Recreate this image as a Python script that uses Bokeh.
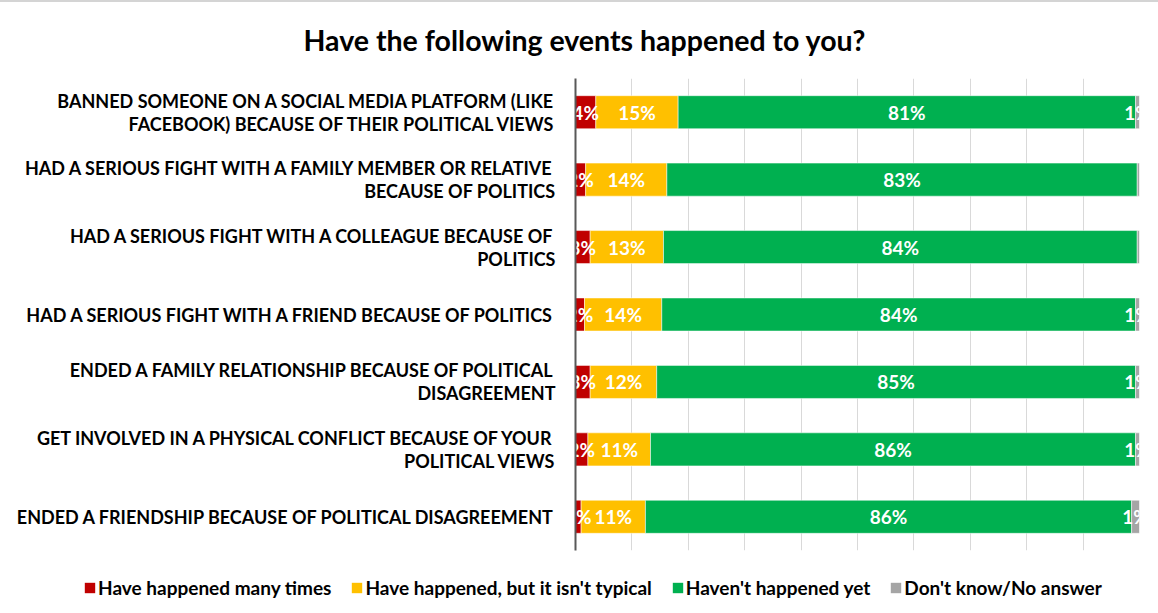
from bokeh.plotting import figure
from bokeh.models import ColumnDataSource, FactorRange, Legend, LegendItem
from bokeh.core.properties import value
from bokeh.embed import file_html
from bokeh.resources import INLINE

title_text = "Have the following events happened to you?"
categories = [
    "BANNED SOMEONE ON A SOCIAL MEDIA PLATFORM (LIKE\nFACEBOOK) BECAUSE OF THEIR POLITICAL VIEWS",
    "HAD A SERIOUS FIGHT WITH A FAMILY MEMBER OR RELATIVE\nBECAUSE OF POLITICS",
    "HAD A SERIOUS FIGHT WITH A COLLEAGUE BECAUSE OF\nPOLITICS",
    "HAD A SERIOUS FIGHT WITH A FRIEND BECAUSE OF POLITICS",
    "ENDED A FAMILY RELATIONSHIP BECAUSE OF POLITICAL\nDISAGREEMENT",
    "GET INVOLVED IN A PHYSICAL CONFLICT BECAUSE OF YOUR\nPOLITICAL VIEWS",
    "ENDED A FRIENDSHIP BECAUSE OF POLITICAL DISAGREEMENT",
]
series_names = [
    "Have happened many times",
    "Have happened, but it isn't typical",
    "Haven't happened yet",
    "Don't know/No answer",
]
many_times = [3.6, 1.8, 2.6, 1.6, 2.6, 2.2, 1.0]
not_typical = [14.6, 14.4, 13.0, 13.7, 11.8, 11.1, 11.4]
not_yet = [81.1, 83.4, 84.0, 84.0, 84.9, 86.0, 86.2]
dont_know = [0.7, 0.4, 0.4, 0.7, 0.7, 0.7, 1.4]
colors = ["#c00000", "#ffc000", "#00b050", "#a5a5a5"]
grid_ticks = [0, 10, 20, 30, 40, 50, 60, 70, 80, 90, 100]

keys = ["s0", "s1", "s2", "s3"]
data = dict(cat=categories, s0=many_times, s1=not_typical, s2=not_yet, s3=dont_know)
source = ColumnDataSource(data)

FONT = "Lato"

p = figure(
    width=1158, height=558,
    y_range=FactorRange(*reversed(categories)),
    x_range=(0, 100),
    output_backend="svg", toolbar_location=None,
    min_border_left=575, min_border_right=19, min_border_top=75, min_border_bottom=10,
)
p.styles = {"border-top": "2px solid #d4d4d4"}

p.hbar_stack(keys, y="cat", height=0.49, color=colors, source=source,
             line_color="white", line_width=0.5)

vals = [many_times, not_typical, not_yet, dont_know]
for si, arr in enumerate(vals):
    xs, ys, ts = [], [], []
    for ci, cat in enumerate(categories):
        left = sum(vals[k][ci] for k in range(si))
        v = arr[ci]
        if v < 0.5:
            continue
        xs.append(left + v / 2)
        ys.append(cat)
        ts.append(f"{v:.0f}%")
    p.text(x=xs, y=ys, text=ts, text_align="center", text_baseline="middle",
           text_color="white", text_font=value(FONT), text_font_style="bold",
           text_font_size="19px")

p.xaxis.visible = False
p.xgrid.ticker = grid_ticks
p.xgrid.grid_line_color = "#d9d9d9"
p.xgrid.grid_line_width = 1
p.ygrid.grid_line_color = None
p.outline_line_color = None
p.y_range.range_padding = 0

ax = p.yaxis[0]
ax.axis_line_color = "#595959"
ax.axis_line_width = 2
ax.major_tick_line_color = None
ax.minor_tick_line_color = None
ax.major_tick_out = 0
ax.major_tick_in = 0
ax.major_label_standoff = 20
ax.major_label_text_font = FONT
ax.major_label_text_font_style = "bold"
ax.major_label_text_font_size = "18px"
ax.major_label_text_line_height = 1.05
ax.major_label_text_color = "#000000"

p.title.text = title_text
p.title.align = "left"
p.title.offset = -272
p.title.vertical_align = "top"
p.title.text_font = FONT
p.title.text_font_style = "bold"
p.title.text_font_size = "28.5px"
p.title.text_color = "#000000"
p.title.standoff = 40

# legend strip (separate root so its frame spans the full width); it reuses the
# same series as zero-height bars so only their legend glyphs show
lf = figure(width=1158, height=53, x_range=(0, 100), y_range=FactorRange(*reversed(categories)),
            output_backend="svg", toolbar_location=None,
            min_border_left=0, min_border_right=0, min_border_top=0, min_border_bottom=0)
lf.axis.visible = False
lf.grid.grid_line_color = None
lf.outline_line_color = None
lrs = lf.hbar_stack(keys, y="cat", height=0.0, fill_color=colors, line_color=colors,
                    line_alpha=0.0, source=source)
legend = Legend(items=[LegendItem(label=n, renderers=[r]) for n, r in zip(series_names, lrs)],
                orientation="horizontal", location=(83, 12),
                glyph_width=13, glyph_height=13, label_text_font=FONT,
                label_text_font_style="bold", label_text_font_size="19px",
                label_text_color="#000000",
                spacing=19, label_standoff=2, border_line_color=None,
                background_fill_alpha=0, padding=0, margin=0)
lf.add_layout(legend)

open("out.html", "w").write(file_html([p, lf], INLINE))
